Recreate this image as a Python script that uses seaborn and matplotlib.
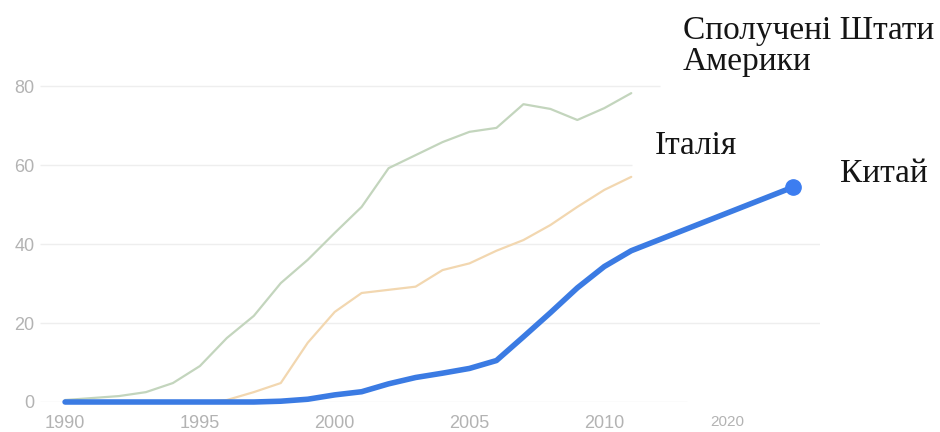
import matplotlib
matplotlib.use('Agg')
import matplotlib.pyplot as plt
import numpy as np
import pandas as pd
import seaborn as sns

# values (internet users per 100 people)
years = list(range(1990, 2012))
usa = [0.5, 1.0, 1.5, 2.5, 4.8, 9.1, 16.2, 21.8, 30.1, 36.0, 42.8, 49.4,
       59.2, 62.5, 65.8, 68.4, 69.4, 75.4, 74.2, 71.4, 74.4, 78.2]
italy = [0, 0, 0, 0, 0, 0, 0.5, 2.5, 4.8, 15.0, 22.8, 27.6,
         28.4, 29.2, 33.4, 35.1, 38.3, 41.0, 44.8, 49.4, 53.7, 57.0]
china_years = years + [2017]
china = [0, 0, 0, 0, 0, 0, 0, 0, 0.2, 0.7, 1.8, 2.6,
         4.6, 6.2, 7.3, 8.5, 10.5, 16.5, 22.6, 28.9, 34.3, 38.3, 54.4]

labels = ['Сполучені Штати\nАмерики', 'Італія', 'Китай']
xtick_pos = [1990, 1995, 2000, 2005, 2010, 2014.55]
xtick_labels = ['1990', '1995', '2000', '2005', '2010', '2020']
yticks = [0, 20, 40, 60, 80]

colors = {'usa': '#c3d5bd', 'italy': '#f2d7b0', 'china': '#3b7be3'}

sns.set_style('white')
plt.rcParams['font.family'] = ['Liberation Sans', 'DejaVu Sans']

fig = plt.figure(figsize=(9.4, 4.32), dpi=100)
ax = fig.add_axes([40 / 940, 30 / 432, 780 / 940, 346 / 432])

# gridlines (cut where the labels sit)
grid_ends = [2013.08, 2018.0, 2018.0, 2011.04, 2012.08]
ax.hlines(yticks, 1989.07, grid_ends, color='#eeeeee', lw=1, zorder=0)

df_us = pd.DataFrame({'year': years, 'v': usa})
df_it = pd.DataFrame({'year': years, 'v': italy})
df_cn = pd.DataFrame({'year': china_years, 'v': china})

sns.lineplot(df_us, x='year', y='v', ax=ax, color=colors['usa'], lw=1.6, clip_on=False)
sns.lineplot(df_it, x='year', y='v', ax=ax, color=colors['italy'], lw=1.6, clip_on=False)
sns.lineplot(df_cn, x='year', y='v', ax=ax, color=colors['china'], lw=4.0,
             solid_capstyle='round', solid_joinstyle='round', clip_on=False)
ax.plot(china_years[-1:], china[-1:], 'o', color='#3c7df0', ms=11, clip_on=False, zorder=5)

ax.set_xlim(1989.07, 2018.0)
ax.set_ylim(0, 87.6)
for s in ax.spines.values():
    s.set_visible(False)

ax.set_xticks(xtick_pos, xtick_labels)
ax.set_yticks(yticks, [str(y) for y in yticks])
ax.tick_params(axis='x', length=7, width=0.8, color='#e0e0e0', pad=2,
               labelsize=13, labelcolor='#b3b3b3')
ax.tick_params(axis='y', length=0, pad=4, labelsize=13, labelcolor='#b3b3b3')
ax.xaxis.get_major_ticks()[-1].tick1line.set_visible(False)
ax.get_xticklabels()[-1].set_fontsize(11)
ax.set_xlabel('')
ax.set_ylabel('')

serif = ['Liberation Serif', 'DejaVu Serif']
fig.text(683 / 940, 1 - 16 / 432, labels[0], family=serif, fontsize=24,
         va='top', ha='left', linespacing=0.98, color='#151515')
fig.text(655 / 940, 1 - 130 / 432, labels[1], family=serif, fontsize=24,
         va='top', ha='left', color='#151515')
fig.text(840 / 940, 1 - 158 / 432, labels[2], family=serif, fontsize=24,
         va='top', ha='left', color='#151515')

plt.savefig('out.png', dpi=100)
